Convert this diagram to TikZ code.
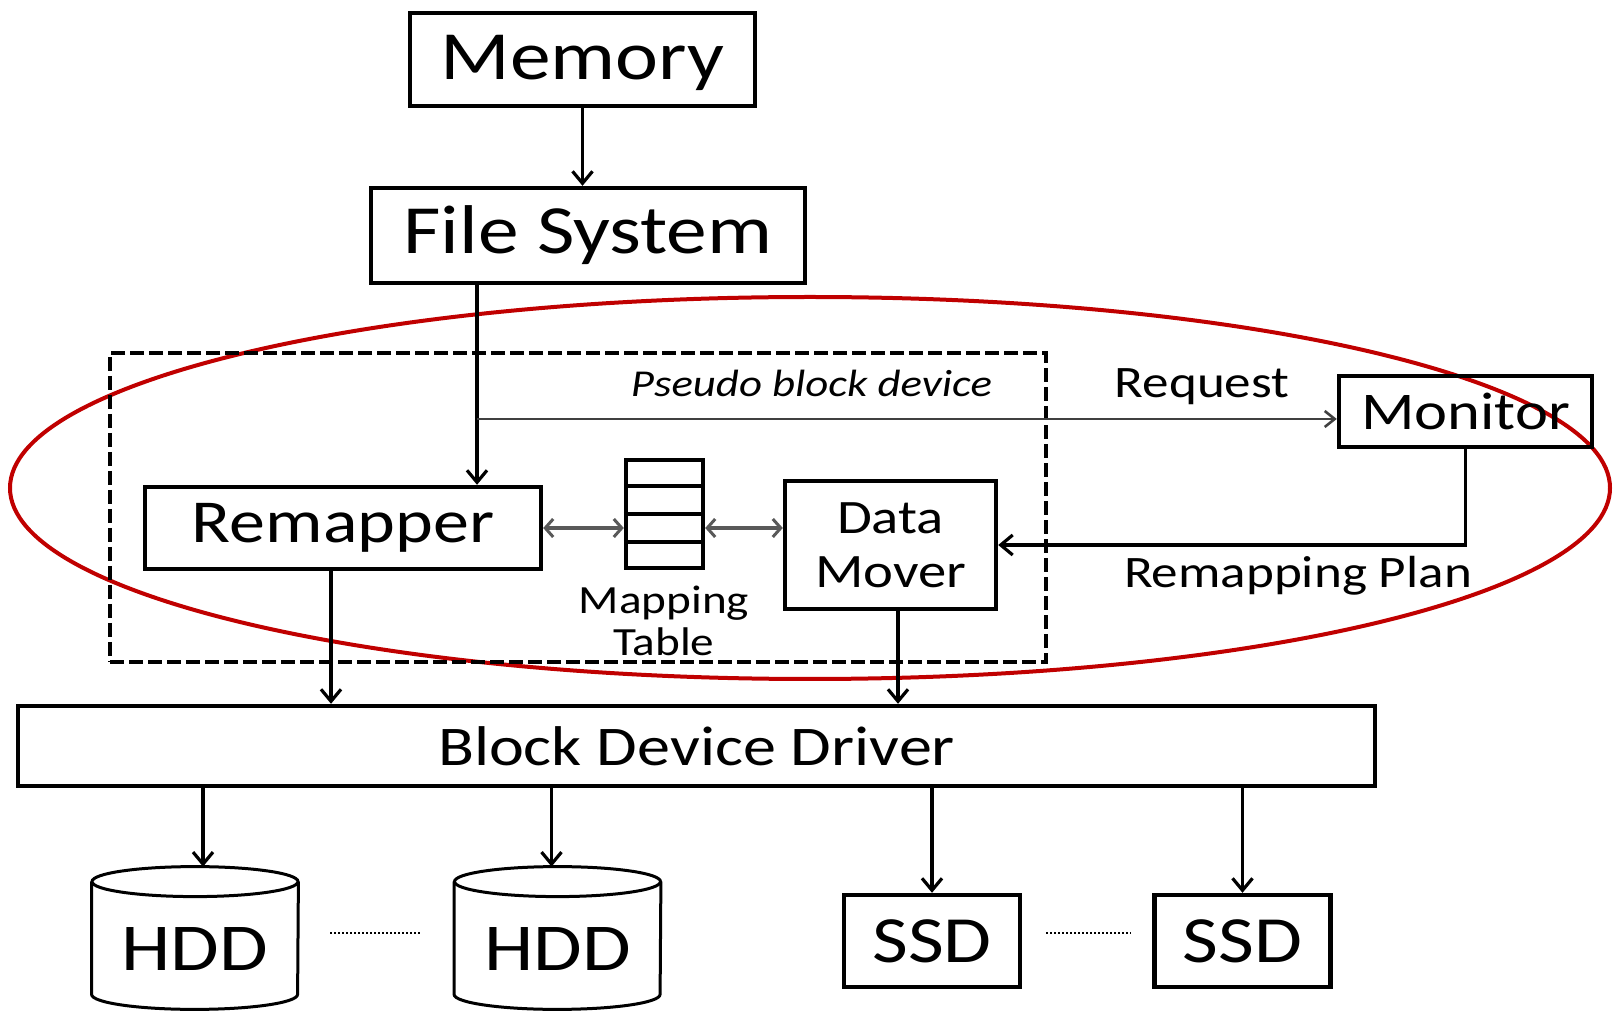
\documentclass[tikz,border=0pt]{standalone}
\usepackage{fontspec}
\setmainfont{Carlito}[FakeStretch=1.18]
\usetikzlibrary{arrows.meta,calc}
\begin{document}
\begin{tikzpicture}[x=0.5pt,y=-0.5pt,
  box/.style={draw,line width=2.2pt,inner sep=0pt,align=center},
  arr/.style={line width=1.8pt,-{Straight Barb[length=6pt,width=10pt,line width=1.6pt]}},
  thinarr/.style={line width=1.2pt,black!75,-{Straight Barb[length=5pt,width=8pt,line width=1.3pt]}},
  dbl/.style={line width=1.8pt,black!65,{Straight Barb[length=4pt,width=9pt,line width=1.5pt]}-{Straight Barb[length=4pt,width=9pt,line width=1.5pt]}},
  cyl/.style={line width=1.5pt},
  dots/.style={line width=1.2pt,dash pattern=on 1pt off 1pt},
  fs/.style={font=\fontsize{#1}{#1}\selectfont}]
\useasboundingbox (0,0) rectangle (1618,1015);
% red ellipse
\draw[line width=2pt,draw={rgb,255:red,192;green,0;blue,0}] (810,488) ellipse [x radius=400pt,y radius=95.5pt];
% dashed pseudo block device
\node[draw,line width=2.4pt,dash pattern=on 7pt off 2.5pt,minimum width=468pt,minimum height=154.5pt,inner sep=0pt] (pbd) at (578,507.5) {};
\node[fs=19pt,anchor=east] (pbdl) at (999,383) {\itshape Pseudo block device};
% boxes
\node[box,fs=34.5pt,minimum width=172.5pt,minimum height=46.5pt,text depth=2pt] (mem) at (582.5,59.5) {Memory};
\node[box,fs=34.5pt,minimum width=217pt,minimum height=47.5pt] (fsys) at (588,235.5) {File System};
\node[box,fs=26.5pt,minimum width=126.5pt,minimum height=35.5pt] (mon) at (1465.5,411.5) {Monitor};
\node[box,fs=30.5pt,minimum width=198pt,minimum height=41pt] (rem) at (343,528) {Remapper};
\node[box,minimum width=38.5pt,minimum height=54pt] (tab) at (664.5,514) {};
\draw[line width=2.2pt] ($(tab.north west)!0.25!(tab.south west)$) -- ($(tab.north east)!0.25!(tab.south east)$);
\draw[line width=2.2pt] ($(tab.north west)!0.5!(tab.south west)$) -- ($(tab.north east)!0.5!(tab.south east)$);
\draw[line width=2.2pt] ($(tab.north west)!0.75!(tab.south west)$) -- ($(tab.north east)!0.75!(tab.south east)$);
\node[fs=20pt,align=center] (tabl) at (664,621) {Mapping\\[1pt]Table};
\node[box,fs=24pt,minimum width=105.5pt,minimum height=64pt] (dm) at (890.5,545) {Data\\[3pt]Mover};
\node[box,fs=28pt,minimum width=678.5pt,minimum height=40pt] (bdd) at (696.5,746) {Block Device Driver};
\node[box,fs=33pt,minimum width=88pt,minimum height=46pt] (ssd1) at (932,941) {SSD};
\node[box,fs=33pt,minimum width=88pt,minimum height=46pt] (ssd2) at (1242.5,941) {SSD};
% HDD cylinders
\node[minimum width=103pt,minimum height=71pt,inner sep=0pt] (hdd1) at (195,938) {};
\node[minimum width=103pt,minimum height=71pt,inner sep=0pt] (hdd2) at (557.5,938) {};
\foreach \c in {hdd1,hdd2}{
  \draw[cyl] ($(\c.north)+(0,15)$) ellipse [x radius=51.5pt,y radius=7.5pt];
  \draw[cyl] ($(\c.north west)+(0,15)$) -- ($(\c.south west)+(0,-15)$)
     arc[start angle=180,end angle=360,x radius=51.5pt,y radius=7.5pt]
     -- ($(\c.north east)+(0,15)$);
}
\node[fs=33.5pt] (hdd1t) at (195,949) {HDD};
\node[fs=33.5pt] (hdd2t) at (557.5,949) {HDD};
% labels
\node[fs=22.5pt] (reql) at (1202,387) {Request};
\node[fs=22.5pt] (rpl) at (1298,576) {Remapping Plan};
% connectors
\coordinate (j) at (477,419);
\coordinate (h1top) at ($(hdd1.north)+(8,0)$);
\coordinate (h2top) at ($(hdd2.north)+(-6,0)$);
\draw[arr] (mem.south) -- (mem.south |- fsys.north);
\draw[line width=1.8pt] (fsys.south -| j) -- (j);
\draw[arr] (j) -- (j |- rem.north);
\draw[thinarr] (j) -- (j -| mon.west);
\draw[arr] (mon.south) |- (dm.east);
\draw[dbl] (rem.east) -- (rem.east -| tab.west);
\draw[dbl] (tab.east |- rem.east) -- (dm.west |- rem.east);
\draw[arr] ([xshift=-6pt]rem.south) -- ([xshift=-6pt]rem.south |- bdd.north);
\draw[arr] ([xshift=3.75pt]dm.south) -- ([xshift=3.75pt]dm.south |- bdd.north);
\draw[arr] (bdd.south -| h1top) -- (h1top);
\draw[arr] (bdd.south -| h2top) -- (h2top);
\draw[arr] (bdd.south -| ssd1.north) -- (ssd1.north);
\draw[arr] (bdd.south -| ssd2.north) -- (ssd2.north);
\draw[dots] ($(hdd1.east)+(32,-5)$) -- ($(hdd2.west)+(-34,-5)$);
\draw[dots] ($(ssd1.east)+(24,-8)$) -- ($(ssd2.west)+(-21,-8)$);
\end{tikzpicture}
\end{document}
